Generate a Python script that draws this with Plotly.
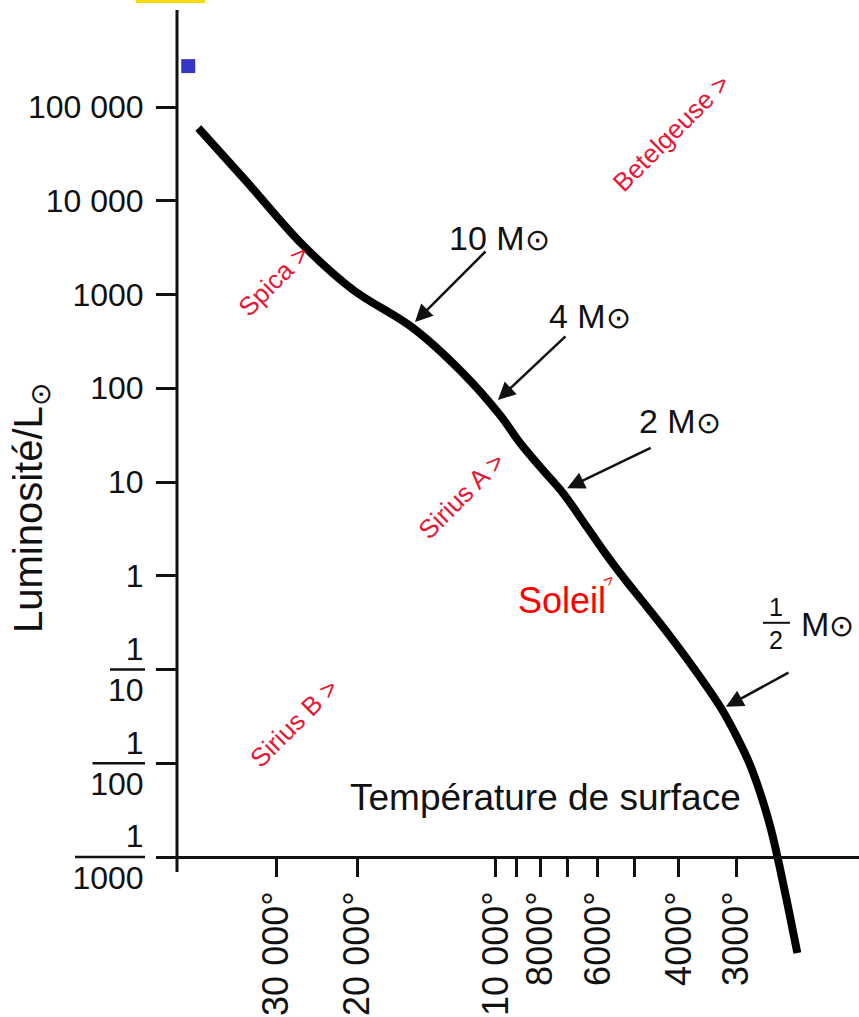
import math
import plotly.graph_objects as go

# ---- data -----------------------------------------------------------------
# Main-sequence track: surface temperature (K) and luminosity (L_sun)
ms_temp = [44400, 34800, 26300, 20450, 15150, 11800, 9800, 8860, 7900, 7150, 6340,
           5850, 5290, 4690, 4120, 3650, 3220, 2990, 2800, 2640, 2520, 2420,
           2320, 2210]
ms_lum = [59700, 15850, 3370, 1120, 439, 145, 51.8, 26.1, 13.4, 7.63, 3.31,
          1.88, 0.97, 0.464, 0.206, 0.0918, 0.0370, 0.0190, 0.00958, 0.00426,
          0.00194, 0.000822, 0.000308, 0.0000946]

# Hot star marked at the top of the diagram
hot_temp = [46700]
hot_lum = [273000]

# Stellar-mass markers along the track (arrow tips)
mass_labels = ["10 M", "4 M", "2 M", "½ M"]
mass_temp = [15000, 9900, 7000, 3160]
mass_lum = [509, 75, 8.6, 0.04]

# Named stars (label centres)
star_names = ["Spica >", "Sirius A >", "Sirius B >", "Betelgeuse >"]
star_temp = [30500, 11900, 27500, 4160]
star_lum = [1400, 7.1, 0.027, 52800]

# The Sun
sun_temp = [5700]
sun_lum = [0.9]

# Axis ticks
lum_ticks = [1e5, 1e4, 1e3, 100, 10, 1, 0.1, 0.01, 0.001]
lum_ticktext = ["100 000", "10 000", "1000", "100", "10", "1",
                "1<br>10", "1<br>100", "1<br>1000"]
temp_ticks = [30000, 20000, 10000, 9000, 8000, 7000, 6000, 5000, 4000, 3000]
temp_ticktext = ["30 000°", "20 000°", "10 000°", " ", "8000°", " ",
                 "6000°", " ", "4000°", "3000°"]

# ---- layout geometry ----------------------------------------------------------
W, H = 859, 1017
M_L, M_T = 177, 10
PLOT_W, PLOT_H = W - M_L, H - M_T
X_RANGE = [math.log10(49400), math.log10(1623)]   # hot stars on the left
Y_RANGE = [-4.7067, 6.0347]
TICK_LEN = 20
FONT = "Liberation Sans, Arial, sans-serif"
RED = "rgb(232,22,52)"


def yfrac(v):
    return (math.log10(v) - Y_RANGE[0]) / (Y_RANGE[1] - Y_RANGE[0])


def xfrac(v):
    return (math.log10(v) - X_RANGE[0]) / (X_RANGE[1] - X_RANGE[0])


fig = go.Figure()

fig.add_trace(go.Scatter(
    x=ms_temp, y=ms_lum, mode="lines",
    line=dict(color="black", width=8, shape="spline", smoothing=1.0),
    hoverinfo="skip", showlegend=False))

fig.add_trace(go.Scatter(
    x=hot_temp, y=hot_lum, mode="markers",
    marker=dict(symbol="square", size=14, color="#3535c8"),
    hoverinfo="skip", showlegend=False))

shapes = []
annotations = []

# vertical axis line, running a little below the temperature axis
shapes.append(dict(type="line", xref="paper", yref="paper",
                   x0=0, x1=0, y0=yfrac(1e-3) - 15 / PLOT_H, y1=1,
                   line=dict(color="#111", width=3)))

# fraction bars of the small-luminosity tick labels
for v, txt in zip(lum_ticks, lum_ticktext):
    if "<br>" in txt:
        den = txt.split("<br>")[1]
        right = -(TICK_LEN + 12)
        shapes.append(dict(type="line", xref="paper", yref="paper",
                           xsizemode="pixel", xanchor=0,
                           x0=right - 17.5 * len(den), x1=right,
                           y0=yfrac(v), y1=yfrac(v),
                           line=dict(color="#111", width=2.5)))

# mass arrows and labels
arrow_off = [(72, -72), (69, -65), (85, -41), (64, -35)]
label_shift = [(32, 84), (49, 84), (70, 67), (73, 83)]
sun_sym = "<span style='font-size:30px'>⊙</span>"
for lab, t, l, (ax, ay), (xs, ys) in zip(mass_labels, mass_temp, mass_lum,
                                         arrow_off, label_shift):
    annotations.append(dict(
        x=math.log10(t), y=math.log10(l), xref="x", yref="y",
        text="", showarrow=True, ax=ax, ay=ay,
        arrowhead=2, arrowsize=1.4, arrowwidth=2.5, arrowcolor="#111",
        standoff=0))
    if lab.startswith("½"):
        # stacked one-half fraction
        annotations.append(dict(
            x=math.log10(t), y=math.log10(l), xref="x", yref="y",
            text="1<br>2", showarrow=False, xshift=50, yshift=83,
            xanchor="center", yanchor="middle",
            font=dict(family=FONT, size=25, color="#111")))
        shapes.append(dict(type="line", xref="paper", yref="paper",
                           xsizemode="pixel", xanchor=xfrac(t),
                           ysizemode="pixel", yanchor=yfrac(l),
                           x0=37, x1=64, y0=84, y1=84,
                           line=dict(color="#111", width=2)))
        text = "M" + sun_sym
    else:
        text = lab + sun_sym
    annotations.append(dict(
        x=math.log10(t), y=math.log10(l), xref="x", yref="y",
        text=text, showarrow=False, xshift=xs, yshift=ys,
        xanchor="left", yanchor="middle",
        font=dict(family=FONT, size=34, color="#111")))

# star names
for name, t, l in zip(star_names, star_temp, star_lum):
    annotations.append(dict(
        x=math.log10(t), y=math.log10(l), xref="x", yref="y",
        text=name, showarrow=False, textangle=-45,
        font=dict(family=FONT, size=26, color=RED)))

# the Sun
annotations.append(dict(
    x=math.log10(sun_temp[0]), y=math.log10(sun_lum[0]), xref="x", yref="y",
    text=">", showarrow=False, textangle=-45,
    font=dict(family=FONT, size=16, color="red")))
annotations.append(dict(
    x=math.log10(sun_temp[0]), y=math.log10(sun_lum[0]), xref="x", yref="y",
    text="Soleil", showarrow=False, xshift=-46, yshift=-20,
    font=dict(family=FONT, size=36, color="red")))

# axis titles
annotations.append(dict(
    x=(545 - M_L) / PLOT_W, y=(H - 820) / PLOT_H, xref="paper", yref="paper",
    text="Température de surface", showarrow=False,
    font=dict(family=FONT, size=37, color="#111")))
annotations.append(dict(
    x=(31 - M_L) / PLOT_W, y=(H - 508) / PLOT_H, xref="paper", yref="paper",
    text="Luminosité/L<sub>⊙</sub>", showarrow=False, textangle=-90,
    xanchor="center", yanchor="middle",
    font=dict(family=FONT, size=40, color="#111")))

# small yellow strip at the top edge
shapes.append(dict(type="rect", xref="paper", yref="paper",
                   x0=(136 - M_L) / PLOT_W, x1=(205 - M_L) / PLOT_W,
                   y0=(H - 3) / PLOT_H, y1=H / PLOT_H,
                   fillcolor="#f4dc00", line=dict(width=0)))

fig.update_layout(
    width=W, height=H,
    margin=dict(l=M_L, r=0, t=M_T, b=0, pad=0),
    paper_bgcolor="white", plot_bgcolor="white",
    font=dict(family=FONT, color="#111"),
    showlegend=False,
    shapes=shapes, annotations=annotations,
    xaxis=dict(type="log", range=X_RANGE, anchor="free", position=yfrac(1e-3),
               showline=True, linecolor="#111", linewidth=3,
               showgrid=False, zeroline=False,
               tickmode="array", tickvals=temp_ticks, ticktext=temp_ticktext,
               ticks="outside", ticklen=18, tickwidth=3, tickcolor="#111",
               tickangle=-90, tickfont=dict(family=FONT, size=36, color="#111")),
    yaxis=dict(type="log", range=Y_RANGE, showline=False,
               showgrid=False, zeroline=False,
               tickmode="array", tickvals=lum_ticks, ticktext=lum_ticktext,
               ticks="outside", ticklen=TICK_LEN, tickwidth=3, tickcolor="#111",
               ticklabelstandoff=6,
               tickfont=dict(family=FONT, size=32, color="#111")),
)

fig.write_html("out.html")
